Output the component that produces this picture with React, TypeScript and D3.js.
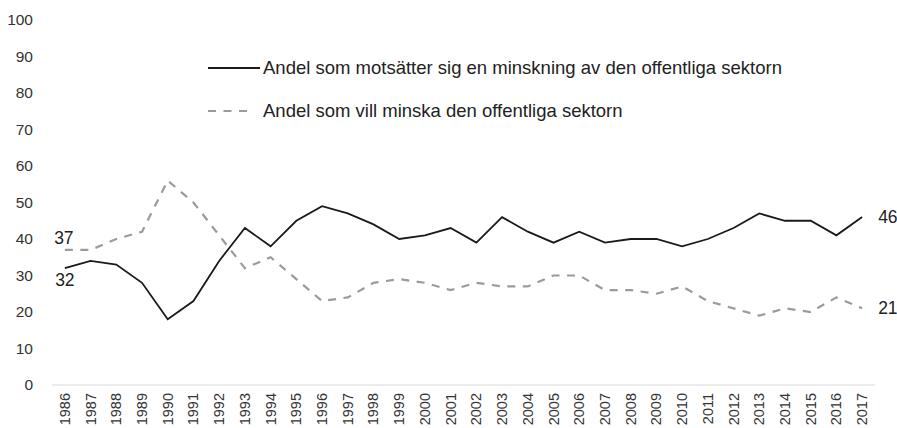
import React from "react";
import * as d3 from "d3";

const years = [
  "1986", "1987", "1988", "1989", "1990", "1991", "1992", "1993", "1994", "1995", "1996",
  "1997", "1998", "1999", "2000", "2001", "2002", "2003", "2004", "2005", "2006", "2007",
  "2008", "2009", "2010", "2011", "2012", "2013", "2014", "2015", "2016", "2017",
];

const oppose = [
  32, 34, 33, 28, 18, 23, 34, 43, 38, 45, 49, 47, 44, 40, 41, 43, 39, 46, 42, 39, 42, 39,
  40, 40, 38, 40, 43, 47, 45, 45, 41, 46,
];

const reduce = [
  37, 37, 40, 42, 56, 50, 41, 32, 35, 29, 23, 24, 28, 29, 28, 26, 28, 27, 27, 30, 30, 26,
  26, 25, 27, 23, 21, 19, 21, 20, 24, 21,
];

const yTicks = [0, 10, 20, 30, 40, 50, 60, 70, 80, 90, 100];

const seriesNames = [
  "Andel som motsätter sig en minskning av den offentliga sektorn",
  "Andel som vill minska den offentliga sektorn",
];

const W = 897;
const H = 428;
const font = "'Liberation Sans', Arial, sans-serif";

export default function App() {
  const x = d3.scaleBand().domain(years).range([52, 875]);
  const y = d3.scaleLinear().domain([0, 100]).range([385, 20]);
  const cx = (d: string) => (x(d) as number) + x.bandwidth() / 2;

  const line = d3
    .line<number>()
    .x((_, i) => cx(years[i]))
    .y((v) => y(v));

  const first = years[0];
  const last = years[years.length - 1];

  return (
    <svg
      width={W}
      height={H}
      style={{ position: "absolute", left: 0, top: 0, background: "#fff" }}
      fontFamily={font}
    >
      {yTicks.map((t) => (
        <text key={t} x={33} y={y(t)} dy="0.35em" textAnchor="end" fontSize={15.5} fill="#333">
          {t}
        </text>
      ))}
      <line x1={52} x2={875} y1={y(0)} y2={y(0)} stroke="#d9d9d9" strokeWidth={1.2} />
      {years.map((yr) => (
        <text
          key={yr}
          transform={`translate(${cx(yr) + 5},${y(0) + 8}) rotate(-90)`}
          textAnchor="end"
          fontSize={14.5}
          fill="#333"
        >
          {yr}
        </text>
      ))}

      <path d={line(reduce) || ""} fill="none" stroke="#9b9b9b" strokeWidth={2.2} strokeDasharray="8,7.5" />
      <path d={line(oppose) || ""} fill="none" stroke="#1a1a1a" strokeWidth={1.8} />

      <text x={cx(first) - 1} y={y(reduce[0]) - 6} textAnchor="middle" fontSize={17.5} fill="#222">
        {reduce[0]}
      </text>
      <text x={cx(first)} y={y(oppose[0]) + 18} textAnchor="middle" fontSize={17.5} fill="#222">
        {oppose[0]}
      </text>
      <text x={cx(last) + 16} y={y(oppose[oppose.length - 1])} dy="0.35em" fontSize={17.5} fill="#222">
        {oppose[oppose.length - 1]}
      </text>
      <text x={cx(last) + 16} y={y(reduce[reduce.length - 1])} dy="0.35em" fontSize={17.5} fill="#222">
        {reduce[reduce.length - 1]}
      </text>

      <line x1={208} x2={260} y1={68} y2={68} stroke="#1a1a1a" strokeWidth={1.8} />
      <text x={263} y={68} dy="0.35em" fontSize={18.5} fill="#222">
        {seriesNames[0]}
      </text>
      <line x1={208} x2={250} y1={111} y2={111} stroke="#9b9b9b" strokeWidth={2.2} strokeDasharray="8,7.5" />
      <text x={263} y={111} dy="0.35em" fontSize={18.5} fill="#222">
        {seriesNames[1]}
      </text>
    </svg>
  );
}
